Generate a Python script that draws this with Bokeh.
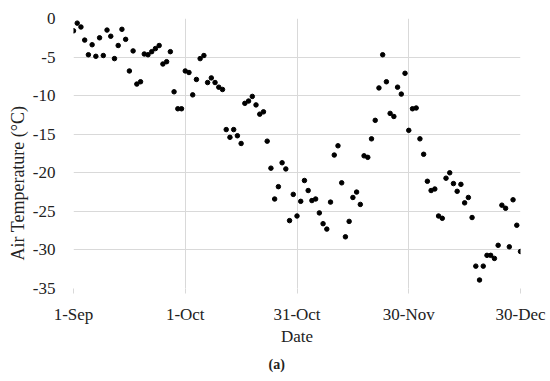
import pandas as pd
from bokeh.plotting import figure
from bokeh.models import Range1d, FixedTicker, Title, ColumnDataSource
from bokeh.embed import file_html
from bokeh.resources import INLINE

# Daily observations, 1 Sep to 30 Dec
dates = pd.date_range("2018-09-01", "2018-12-30", freq="D")
air_temp = [
    -1.6, -0.6, -1.1, -2.8, -4.7, -3.4, -4.9, -2.5, -4.8, -1.5,
    -2.3, -5.2, -3.5, -1.4, -2.7, -6.8, -4.2, -8.5, -8.2, -4.6,
    -4.7, -4.3, -3.9, -3.5, -5.9, -5.6, -4.3, -9.5, -11.7, -11.7,
    -6.8, -7.0, -9.9, -7.9, -5.2, -4.8, -8.3, -7.7, -8.3, -8.9,
    -9.2, -14.4, -15.4, -14.4, -15.2, -16.2, -11.0, -10.7, -10.1, -11.2,
    -12.4, -12.1, -15.9, -19.4, -23.4, -21.8, -18.7, -19.5, -26.2, -22.8,
    -25.6, -23.7, -21.0, -22.3, -23.6, -23.4, -25.2, -26.6, -27.3, -23.8,
    -17.7, -16.5, -21.3, -28.3, -26.3, -23.2, -22.5, -24.1, -17.8, -18.0,
    -15.6, -13.2, -9.0, -4.7, -8.2, -12.3, -12.7, -8.9, -9.8, -7.1,
    -14.5, -11.7, -11.6, -15.6, -17.6, -21.1, -22.3, -22.1, -25.6, -25.9,
    -20.7, -20.0, -21.4, -22.4, -21.5, -23.9, -23.2, -25.8, -32.1, -33.9,
    -32.1, -30.7, -30.7, -31.1, -29.4, -24.2, -24.6, -29.6, -23.5, -26.8,
    -30.2,
]
tick_dates = ["2018-09-01", "2018-10-01", "2018-10-31", "2018-11-30", "2018-12-30"]
tick_labels = ["1-Sep", "1-Oct", "31-Oct", "30-Nov", "30-Dec"]
y_ticks = [0, -5, -10, -15, -20, -25, -30, -35]

start = dates[0]
day = [(d - start).days for d in dates]
tick_days = [(pd.Timestamp(t) - start).days for t in tick_dates]

src = ColumnDataSource(dict(day=day, temp=air_temp))

FONT = "Liberation Serif"
GRID = "#d9d9d9"

p = figure(width=550, height=381, output_backend="svg", toolbar_location=None,
           x_range=Range1d(tick_days[0], tick_days[-1]), y_range=Range1d(-35, 0),
           min_border_left=73, min_border_right=30, min_border_top=18,
           min_border_bottom=93)
p.outline_line_color = None
p.background_fill_color = "white"
p.border_fill_color = "white"

p.scatter("day", "temp", source=src, size=4.5, color="black")

p.xaxis.ticker = FixedTicker(ticks=tick_days)
p.xaxis.major_label_overrides = {t: l for t, l in zip(tick_days, tick_labels)}
p.yaxis.ticker = FixedTicker(ticks=y_ticks)
p.yaxis.major_label_overrides = {v: str(v) for v in y_ticks}

for ax in (p.xaxis[0], p.yaxis[0]):
    ax.axis_line_color = None
    ax.major_label_text_font = FONT
    ax.major_label_text_font_size = "17px"
    ax.major_label_text_color = "#222222"
    ax.minor_tick_line_color = None
    ax.axis_label_text_font = FONT
    ax.axis_label_text_font_style = "normal"
    ax.axis_label_text_color = "#222222"

p.xaxis.major_tick_in = 0
p.xaxis.major_tick_out = 5
p.xaxis.major_tick_line_color = GRID
p.xaxis.major_label_standoff = 11
p.xaxis.axis_label = "Date"
p.xaxis.axis_label_text_font_size = "17px"
p.xaxis.axis_label_standoff = 0

p.yaxis.major_tick_in = 0
p.yaxis.major_tick_out = 0
p.yaxis.major_tick_line_color = None
p.yaxis.major_label_standoff = 18

p.xgrid.grid_line_color = GRID
p.ygrid.grid_line_color = GRID
p.xgrid.ticker = FixedTicker(ticks=tick_days)
p.ygrid.ticker = FixedTicker(ticks=y_ticks)

ytitle = Title(text="Air Temperature (°C)", align="left", offset=28,
               text_font=FONT, text_font_size="18px", text_font_style="normal",
               text_color="#222222", standoff=3)
p.add_layout(ytitle, "left")

cap = Title(text="(a)", align="left", offset=195, text_font=FONT,
            text_font_size="14px", text_font_style="bold", text_color="#222222",
            standoff=12)
p.add_layout(cap, "below")

open("out.html", "w").write(file_html(p, INLINE))
